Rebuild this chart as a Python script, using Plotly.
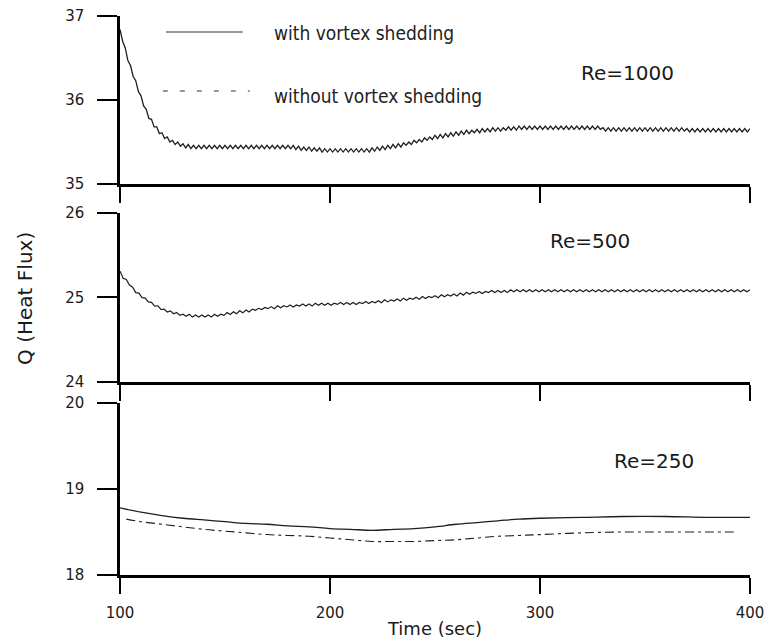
import numpy as np
import plotly.graph_objects as go
from plotly.subplots import make_subplots

# ---------------- data ----------------
# Re=1000, with vortex shedding (sampled every 1.25 s, 100..400 s)
time_re1000 = np.linspace(100, 400, 241)
q_re1000 = [
    36.84, 36.70, 36.62, 36.47, 36.41, 36.28, 36.23, 36.10, 36.05, 35.93,
    35.89, 35.78, 35.77, 35.68, 35.68, 35.60, 35.61, 35.54, 35.56, 35.50,
    35.52, 35.47, 35.50, 35.45, 35.48,
    35.43, 35.47, 35.42, 35.46, 35.42, 35.46, 35.42, 35.46, 35.42, 35.46,
    35.42, 35.46, 35.42, 35.46, 35.42, 35.46, 35.42, 35.46, 35.42, 35.46,
    35.42, 35.46, 35.42, 35.46, 35.42, 35.46, 35.42, 35.46, 35.42, 35.46,
    35.42, 35.46, 35.42, 35.46, 35.42, 35.46, 35.42, 35.46, 35.42, 35.46,
    35.42, 35.46,
    35.41, 35.45, 35.40, 35.44, 35.40, 35.44, 35.39, 35.43, 35.39, 35.43,
    35.38, 35.42,
    35.38, 35.42, 35.38, 35.42, 35.38, 35.42, 35.38, 35.42, 35.38, 35.42,
    35.38, 35.42, 35.38, 35.42, 35.38, 35.42, 35.38,
    35.43, 35.39, 35.44, 35.40, 35.45, 35.41, 35.46, 35.42, 35.47, 35.43,
    35.48, 35.44, 35.49, 35.46, 35.50, 35.47, 35.52, 35.49, 35.53, 35.50,
    35.55, 35.52, 35.56, 35.53, 35.58, 35.54, 35.59, 35.55, 35.60, 35.56,
    35.61, 35.57, 35.62, 35.58, 35.63, 35.59, 35.64, 35.60, 35.64, 35.61,
    35.65, 35.61, 35.66, 35.62, 35.66, 35.62, 35.67, 35.63, 35.67, 35.63,
    35.67, 35.64, 35.68, 35.64, 35.68, 35.64,
    35.69, 35.65, 35.69, 35.65, 35.69, 35.65, 35.69, 35.65, 35.69, 35.65,
    35.69, 35.65, 35.69, 35.65, 35.69, 35.65, 35.69, 35.65, 35.69, 35.65,
    35.69, 35.65, 35.69, 35.65, 35.69, 35.65, 35.69, 35.65, 35.69, 35.65,
    35.69, 35.65,
    35.67, 35.63, 35.67, 35.63, 35.67, 35.63, 35.67, 35.63, 35.67, 35.63,
    35.67, 35.63, 35.67, 35.63, 35.67, 35.63, 35.67, 35.63, 35.67, 35.63,
    35.67, 35.63, 35.67, 35.63, 35.67, 35.63, 35.67, 35.63, 35.67, 35.63,
    35.67, 35.63,
    35.66, 35.62, 35.66, 35.62, 35.66, 35.62, 35.66, 35.62, 35.66, 35.62,
    35.66, 35.62, 35.66, 35.62, 35.66, 35.62, 35.66, 35.62, 35.66, 35.62,
    35.66, 35.62, 35.66, 35.62, 35.66,
]

# Re=500, with vortex shedding (sampled every 1.5 s, 100..400 s)
time_re500 = np.linspace(100, 400, 201)
q_re500 = [
    25.312, 25.228, 25.212, 25.148, 25.122, 25.058, 25.052, 24.998, 24.992, 24.948,
    24.942, 24.898, 24.902, 24.858, 24.862, 24.828, 24.842, 24.808, 24.822, 24.788,
    24.802, 24.778, 24.802, 24.768, 24.792, 24.768, 24.792, 24.768, 24.792, 24.768,
    24.802, 24.778, 24.802, 24.788, 24.822, 24.798, 24.832, 24.808, 24.842, 24.818,
    24.852, 24.828, 24.862, 24.848, 24.872, 24.858, 24.882, 24.868, 24.892, 24.868,
    24.902, 24.878, 24.902, 24.888, 24.912, 24.888, 24.912, 24.898, 24.922, 24.898,
    24.922, 24.898, 24.932, 24.908, 24.932, 24.908, 24.932, 24.908, 24.932, 24.918,
    24.942, 24.918, 24.942, 24.918, 24.942, 24.918, 24.942, 24.928, 24.952, 24.928,
    24.952, 24.938, 24.962, 24.938, 24.972, 24.948, 24.972, 24.958, 24.982, 24.958,
    24.992, 24.968, 24.992, 24.978, 25.002, 24.978, 25.012, 24.988, 25.012, 24.998,
    25.022, 24.998, 25.032, 25.008, 25.032, 25.018, 25.042, 25.018, 25.052, 25.028,
    25.062, 25.038, 25.062, 25.048, 25.072, 25.048, 25.072, 25.058, 25.082, 25.058,
    25.082, 25.058, 25.082, 25.058, 25.092,
    25.068, 25.092, 25.068, 25.092, 25.068, 25.092, 25.068, 25.092, 25.068, 25.092,
    25.068, 25.092, 25.068, 25.092, 25.068, 25.092, 25.068, 25.092, 25.068, 25.092,
    25.068, 25.092, 25.068, 25.092, 25.068, 25.092, 25.068, 25.092, 25.068, 25.092,
    25.068, 25.092, 25.068, 25.092, 25.068, 25.092, 25.068, 25.092, 25.068, 25.092,
    25.068, 25.092, 25.068, 25.092, 25.068, 25.092, 25.068, 25.092, 25.068, 25.092,
    25.068, 25.092, 25.068, 25.092, 25.068, 25.092, 25.068, 25.092, 25.068, 25.092,
    25.068, 25.092, 25.068, 25.092, 25.068, 25.092, 25.068, 25.092, 25.068, 25.092,
    25.068, 25.092, 25.068, 25.092, 25.068, 25.092,
]

# Re=250, with and without vortex shedding
time_re250_with = [100, 110, 120, 130, 140, 150, 160, 170, 180, 190, 200, 210, 220,
                   230, 240, 250, 260, 270, 280, 290, 300, 320, 340, 360, 380, 400]
q_re250_with = [18.78, 18.73, 18.69, 18.66, 18.64, 18.62, 18.60, 18.59, 18.57, 18.56,
                18.54, 18.53, 18.52, 18.53, 18.54, 18.56, 18.59, 18.61, 18.63, 18.65,
                18.66, 18.67, 18.68, 18.68, 18.67, 18.67]
time_re250_without = [103, 110, 120, 130, 140, 150, 160, 170, 180, 190, 200, 210, 220,
                      230, 240, 250, 260, 270, 280, 290, 300, 320, 340, 360, 380, 394]
q_re250_without = [18.65, 18.62, 18.59, 18.56, 18.53, 18.51, 18.49, 18.47, 18.46, 18.45,
                   18.43, 18.41, 18.39, 18.39, 18.39, 18.40, 18.41, 18.43, 18.45, 18.46,
                   18.47, 18.49, 18.50, 18.50, 18.50, 18.50]

x_ticks = [100, 200, 300, 400]
y_ranges = [[35, 37], [24, 26], [18, 20]]
y_ticks = [[35, 36, 37], [24, 25, 26], [18, 19, 20]]
re_labels = ["Re=1000", "Re=500", "Re=250"]
legend_labels = ["with vortex shedding", "without vortex shedding"]

# ---------------- figure ----------------
fig = make_subplots(rows=3, cols=1)

line_col = "#1e1e1e"
fig.add_trace(go.Scatter(x=time_re1000, y=q_re1000, mode="lines",
                         line=dict(color=line_col, width=1.3), showlegend=False), row=1, col=1)
fig.add_trace(go.Scatter(x=time_re500, y=q_re500, mode="lines",
                         line=dict(color=line_col, width=1.2), showlegend=False), row=2, col=1)
fig.add_trace(go.Scatter(x=time_re250_with, y=q_re250_with, mode="lines", line_shape="spline",
                         line=dict(color=line_col, width=1.3), showlegend=False), row=3, col=1)
fig.add_trace(go.Scatter(x=time_re250_without, y=q_re250_without, mode="lines", line_shape="spline",
                         line=dict(color=line_col, width=1.1, dash="9px,4px,3px,4px"),
                         showlegend=False), row=3, col=1)

domains = [[0.6995, 1.0], [0.3453, 0.6476], [0.0, 0.3077]]
tick_font = dict(family="DejaVu Sans", size=15, color="#1a1a1a")
for i in range(3):
    fig.update_xaxes(row=i + 1, col=1, range=[100, 400], tickvals=x_ticks,
                     showticklabels=(i == 2), showline=True, linecolor="black",
                     linewidth=2.5, ticks="outside", ticklen=16, tickwidth=2,
                     tickcolor="black", showgrid=False, zeroline=False,
                     tickfont=tick_font, ticklabelstandoff=6, automargin=False,
                     ticklabeloverflow="allow")
    fig.update_yaxes(row=i + 1, col=1, range=y_ranges[i], tickvals=y_ticks[i],
                     domain=domains[i], showline=True, linecolor="black",
                     linewidth=2.5, ticks="outside", ticklen=20, tickwidth=1.5,
                     tickcolor="black", showgrid=False, zeroline=False,
                     tickfont=tick_font, ticklabelstandoff=10, automargin=False,
                     ticklabeloverflow="allow")

fig.update_xaxes(row=3, col=1, title=dict(text="Time (sec)", standoff=2,
                 font=dict(family="DejaVu Sans", size=18, color="#1a1a1a")))

annotations = [
    dict(text=re_labels[0], x=0.805, y=0.898),
    dict(text=re_labels[1], x=0.746, y=0.5975),
    dict(text=re_labels[2], x=0.848, y=0.204),
]
for a in annotations:
    fig.add_annotation(xref="paper", yref="paper", showarrow=False,
                       xanchor="center", yanchor="middle",
                       font=dict(family="DejaVu Sans", size=20, color="#1a1a1a"), **a)

fig.add_annotation(xref="paper", yref="paper", x=-0.151, y=0.4955, showarrow=False,
                   text="Q (Heat Flux)", textangle=-90, xanchor="center", yanchor="middle",
                   font=dict(family="DejaVu Sans", size=20, color="#1a1a1a"))

legend_font = dict(family="DejaVu Sans Condensed, sans-serif", size=19, color="#222222")
fig.add_annotation(xref="paper", yref="paper", x=0.2413, y=0.969, showarrow=False,
                   text=legend_labels[0], xanchor="left", yanchor="middle", font=legend_font)
fig.add_annotation(xref="paper", yref="paper", x=0.2413, y=0.857, showarrow=False,
                   text=legend_labels[1], xanchor="left", yanchor="middle", font=legend_font)
fig.add_shape(type="line", xref="paper", yref="paper", x0=0.073, x1=0.195,
              y0=0.9714, y1=0.9714, line=dict(color="#333333", width=1.2))
fig.add_shape(type="line", xref="paper", yref="paper", x0=0.068, x1=0.206,
              y0=0.8658, y1=0.8658, line=dict(color="#333333", width=1.2, dash="5px,12px"))

fig.update_layout(width=768, height=639, plot_bgcolor="white", paper_bgcolor="white",
                  margin=dict(l=120, r=18, t=16, b=64), showlegend=False)

fig.write_html("out.html", config={"displayModeBar": False},
               post_script="document.body.style.margin='0';"
                           "document.documentElement.style.overflow='hidden';")
